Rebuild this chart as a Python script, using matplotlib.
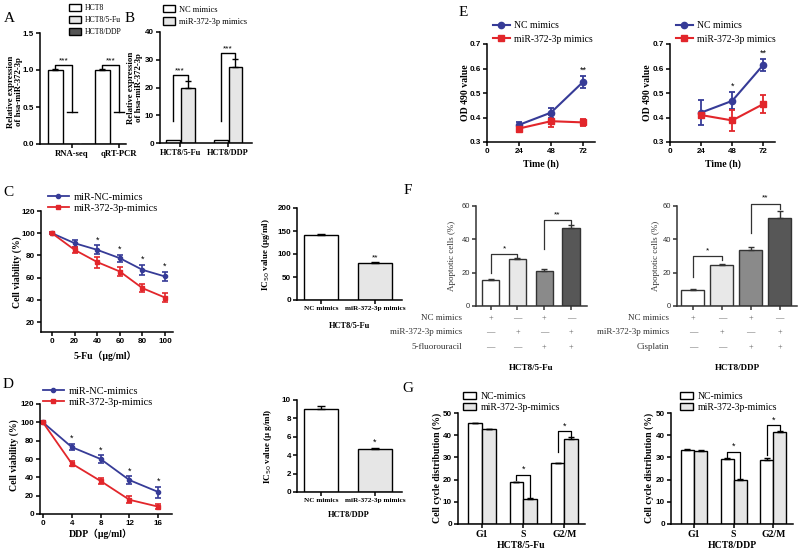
import numpy as np
import matplotlib
matplotlib.use("Agg")
import matplotlib.pyplot as plt

# ---------------- data ----------------
# A
a_groups = ["RNA-seq", "qRT-PCR"]
a_labels = ["HCT8", "HCT8/5-Fu", "HCT8/DDP"]
a_hct8 = [1.0, 1.0]
a_hct8_err = [0.012, 0.01]
a_5fu = [0.0, 0.0]
a_ddp = [0.0, 0.0]
a_sig_top = [1.07, 1.07]
a_sig_low = [0.43, 0.43]

# B
b_groups = ["HCT8/5-Fu", "HCT8/DDP"]
b_labels = ["NC mimics", "miR-372-3p mimics"]
b_nc = [1.0, 1.0]
b_mir = [19.7, 27.5]
b_mir_err = [2.5, 2.6]
b_sig_low = [8.0, 8.0]
b_sig_top = [24.5, 32.5]

# C
c_dose = [0, 20, 40, 60, 80, 100]
c_nc = [100, 91, 85, 77.5, 67, 61]
c_nc_err = [1, 3, 4, 3, 4.5, 4.5]
c_mir = [100, 85, 74, 65.5, 50.5, 42]
c_mir_err = [1, 3, 5, 4, 3.5, 4]
c_star_x = [40, 60, 80, 100]
c_ic50 = [141, 81.5]
c_ic50_err = [2.5, 1.2]

# D
d_dose = [0, 4, 8, 12, 16]
d_nc = [100, 73, 60, 37, 24]
d_nc_err = [1, 3.5, 4, 4, 6]
d_mir = [100, 55, 36, 15.5, 8]
d_mir_err = [1, 3, 3, 4, 2.5]
d_star_x = [4, 8, 12, 16]
d_ic50 = [9.0, 4.65]
d_ic50_err = [0.3, 0.12]

# E
e_time = [24, 48, 72]
e1_nc = [0.37, 0.42, 0.545]
e1_nc_err = [0.01, 0.02, 0.025]
e1_mir = [0.355, 0.385, 0.38]
e1_mir_err = [0.015, 0.025, 0.015]
e2_nc = [0.42, 0.468, 0.615]
e2_nc_err = [0.05, 0.035, 0.025]
e2_mir = [0.41, 0.388, 0.455]
e2_mir_err = [0.01, 0.042, 0.037]

# F
f1_vals = [15.5, 28.0, 21.0, 47.0]
f1_err = [0.6, 0.8, 1.0, 1.5]
f2_vals = [9.8, 24.5, 33.5, 53.0]
f2_err = [0.5, 1.0, 2.0, 3.8]
f1_rows = ["NC mimics", "miR-372-3p mimics", "5-fluorouracil"]
f2_rows = ["NC mimics", "miR-372-3p mimics", "Cisplatin"]
f_signs = [["+", "—", "+", "—"], ["—", "+", "—", "+"], ["—", "—", "+", "+"]]
# (left bar, right bar, left foot, top, right foot, label)
f1_brackets = [(0, 1, 20.0, 31.4, 28.9, "*"), (2, 3, 34.4, 51.8, 49.4, "**")]
f2_brackets = [(0, 1, 17.4, 30.0, 27.6, "*"), (2, 3, 43.8, 61.5, 58.0, "**")]

# G
g_phase = ["G1", "S", "G2/M"]
g_labels = ["NC-mimics", "miR-372-3p-mimics"]
g1_nc = [45.3, 18.7, 27.3]
g1_nc_err = [0.4, 0.4, 0.4]
g1_mir = [42.6, 11.4, 38.4]
g1_mir_err = [0.4, 0.3, 0.8]
g2_nc = [33.5, 29.3, 29.0]
g2_nc_err = [0.4, 0.4, 0.8]
g2_mir = [33.0, 20.0, 41.5]
g2_mir_err = [0.3, 0.3, 0.4]
g1_brackets = [(1, 20.0, 22.2, 12.3), (2, 32.4, 41.7, 39.6)]
g2_brackets = [(1, 30.0, 32.3, 20.8), (2, 31.2, 44.4, 42.3)]

# ---------------- helpers ----------------
W, H = 800, 551
fig = plt.figure(figsize=(8, 5.51), dpi=100)
SERIF = "Liberation Serif"
SANS = "Liberation Sans"
BLUE = "#363b97"
RED = "#e2262b"
LIGHT = "#e6e6e6"
TICK = 5.8


def px_axes(l, t, r, b, color="black"):
    ax = fig.add_axes([l / W, 1 - b / H, (r - l) / W, (b - t) / H])
    for s in ("top", "right"):
        ax.spines[s].set_visible(False)
    for s in ("left", "bottom"):
        ax.spines[s].set_linewidth(1.1)
        ax.spines[s].set_color(color)
    ax.tick_params(direction="out", length=3, width=1.1, pad=1.3, color=color)
    ax.patch.set_alpha(0)
    return ax


def num_ticks(ax, axis, ticks, fmt="{:g}", size=TICK, weight="bold", color="black"):
    labels = [fmt.format(t) for t in ticks]
    getattr(ax, "set_%sticks" % axis)(ticks, labels=labels, fontsize=size,
                                        fontfamily=SANS, fontweight=weight, color=color)


def cat_ticks(ax, ticks, labels, size=6.2):
    ax.set_xticks(ticks, labels=labels, fontsize=size, fontfamily=SERIF, fontweight="bold")


def ftext(x, y, s, size=6.5, rot=0, weight="bold", family=SERIF, **kw):
    fig.text(x / W, 1 - y / H, s, fontsize=size, rotation=rot, fontweight=weight,
             fontfamily=family, ha=kw.pop("ha", "center"), va=kw.pop("va", "center"), **kw)


def px_legend(ax, handles, labels, x, y, fs=7, spacing=0.35, hl=1.3, hh=0.8):
    ax.legend(handles, labels, loc="upper left", bbox_to_anchor=(x / W, 1 - y / H),
              bbox_transform=fig.transFigure, frameon=False, borderpad=0, borderaxespad=0,
              prop={"family": SERIF, "size": fs}, labelspacing=spacing,
              handlelength=hl, handleheight=hh, handletextpad=0.5)


def up(err):
    return [np.zeros(len(err)), err]


def star(ax, x, y, s, size=6.5):
    ax.text(x, y, s, ha="center", va="bottom", fontsize=size, fontfamily=SANS)


# ---------------- A ----------------
axA = px_axes(40, 33, 126, 144)
xa = np.arange(len(a_groups))
off, bw = 0.36, 0.32
hA = [
    axA.bar(xa - off, a_hct8, bw, yerr=up(a_hct8_err), color="white", edgecolor="black",
            linewidth=1, capsize=2.5, error_kw=dict(elinewidth=1, capthick=1)),
    axA.bar(xa, a_5fu, bw, color=LIGHT, edgecolor="black", linewidth=1),
    axA.bar(xa + off, a_ddp, bw, color="#555555", edgecolor="black", linewidth=1),
]
for i in range(len(a_groups)):
    axA.plot([i - off, i - off, i, i],
             [a_hct8[i] + a_hct8_err[i], a_sig_top[i], a_sig_top[i], a_sig_low[i]], color="black", lw=1)
    axA.plot([i - 0.1, i + 0.1], [a_sig_low[i]] * 2, color="black", lw=1)
    star(axA, i - off / 2, a_sig_top[i] + 0.01, "***", 6)
axA.set_xlim(-0.68, 1.15)
axA.set_ylim(0, 1.5)
num_ticks(axA, "y", [0, 0.5, 1.0, 1.5], "{:.1f}")
cat_ticks(axA, xa, a_groups)
px_legend(axA, hA, a_labels, 69, 4, fs=5.6, spacing=0.5, hl=1.5, hh=1.0)
ftext(15, 92, "Relative expression\nof hsa-miR-372-3p", size=6.3, rot=90, linespacing=1.0)
ftext(9, 19, "A", size=11, weight="normal")

# ---------------- B ----------------
axB = px_axes(160, 32, 252, 143)
xb = np.arange(len(b_groups))
off, bw = 0.155, 0.29
hB = [
    axB.bar(xb - off, b_nc, bw, color="white", edgecolor="black", linewidth=1),
    axB.bar(xb + off, b_mir, bw, yerr=up(b_mir_err), color=LIGHT, edgecolor="black",
            linewidth=1, capsize=2.5, error_kw=dict(elinewidth=1, capthick=1)),
]
for i in range(len(b_groups)):
    top = b_sig_top[i]
    axB.plot([i - off, i - off, i + off, i + off],
             [b_sig_low[i], top, top, b_mir[i] + b_mir_err[i] + 0.6], color="black", lw=1)
    star(axB, i, top + 0.3, "***", 6)
axB.set_xlim(-0.42, 1.5)
axB.set_ylim(0, 40)
num_ticks(axB, "y", [0, 10, 20, 30, 40])
cat_ticks(axB, xb, b_groups, size=6)
px_legend(axB, hB, b_labels, 163, 5, fs=6, spacing=0.45, hl=1.4, hh=1.0)
ftext(135, 88, "Relative expression\nof hsa-miR-372-3p", size=6.3, rot=90, linespacing=1.0)
ftext(130, 18, "B", size=11, weight="normal")

# ---------------- C ----------------
axC = px_axes(41, 211, 173, 332)
eb1 = axC.errorbar(c_dose, c_nc, yerr=c_nc_err, fmt="-o", color=BLUE, ms=3, lw=1.3,
                   capsize=2, elinewidth=1.2, capthick=1.2, clip_on=False)
eb2 = axC.errorbar(c_dose, c_mir, yerr=c_mir_err, fmt="-s", color=RED, ms=3, lw=1.3,
                   capsize=2, elinewidth=1.2, capthick=1.2, clip_on=False)
for x in c_star_x:
    i = c_dose.index(x)
    star(axC, x, c_nc[i] + c_nc_err[i] + 1, "*")
axC.set_xlim(-9.7, 107)
axC.set_ylim(11, 120)
num_ticks(axC, "y", [20, 40, 60, 80, 100, 120])
num_ticks(axC, "x", c_dose)
px_legend(axC, [eb1[0], eb2[0]], ["miR-NC-mimics", "miR-372-3p-mimics"], 48, 192, fs=7.5, spacing=0.2, hl=2.0)
ftext(17, 272, "Cell viability (%)", size=7, rot=90)
ftext(105, 356, "5-Fu（μg/ml）", size=7, family=[SERIF, "Noto Sans CJK SC"])
ftext(8, 193, "C", size=11, weight="normal")

axC2 = px_axes(297, 208, 402, 300)
xc = np.arange(2)
axC2.bar(xc, c_ic50, 0.64, yerr=up(c_ic50_err), color=["white", LIGHT], edgecolor="black",
         linewidth=1, capsize=3, error_kw=dict(elinewidth=1, capthick=1))
star(axC2, 1, c_ic50[1] + c_ic50_err[1] + 2, "**", 6)
axC2.set_xlim(-0.45, 1.5)
axC2.set_ylim(0, 200)
num_ticks(axC2, "y", [0, 50, 100, 150, 200])
cat_ticks(axC2, xc, ["NC mimics", "miR-372-3p mimics"], size=5.2)
ftext(266, 254, "IC$_{50}$ value (μg/ml)", rot=90)
ftext(349, 326, "HCT8/5-Fu", size=6)

# ---------------- D ----------------
axD = px_axes(40, 404, 172, 514)
eb1 = axD.errorbar(d_dose, d_nc, yerr=d_nc_err, fmt="-o", color=BLUE, ms=3, lw=1.3,
                   capsize=2, elinewidth=1.2, capthick=1.2, clip_on=False)
eb2 = axD.errorbar(d_dose, d_mir, yerr=d_mir_err, fmt="-s", color=RED, ms=3, lw=1.3,
                   capsize=2, elinewidth=1.2, capthick=1.2, clip_on=False)
for x in d_star_x:
    i = d_dose.index(x)
    star(axD, x, d_nc[i] + d_nc_err[i] + 1, "*")
axD.set_xlim(-0.4, 17.9)
axD.set_ylim(0, 120)
num_ticks(axD, "y", [0, 20, 40, 60, 80, 100, 120])
num_ticks(axD, "x", d_dose)
px_legend(axD, [eb1[0], eb2[0]], ["miR-NC-mimics", "miR-372-3p-mimics"], 43, 386, fs=7.5, spacing=0.15, hl=2.0)
ftext(14, 455, "Cell viability (%)", size=7, rot=90)
ftext(101, 534, "DDP（μg/ml）", size=7, family=[SERIF, "Noto Sans CJK SC"])
ftext(8, 385, "D", size=11, weight="normal")

axD2 = px_axes(297, 400, 402, 492)
axD2.bar(xc, d_ic50, 0.64, yerr=up(d_ic50_err), color=["white", LIGHT], edgecolor="black",
         linewidth=1, capsize=3, error_kw=dict(elinewidth=1, capthick=1))
star(axD2, 1, d_ic50[1] + d_ic50_err[1] + 0.1, "*")
axD2.set_xlim(-0.45, 1.5)
axD2.set_ylim(0, 10)
num_ticks(axD2, "y", [0, 2, 4, 6, 8, 10])
cat_ticks(axD2, xc, ["NC mimics", "miR-372-3p mimics"], size=5.2)
ftext(268, 446, "IC$_{50}$ value (μ g/ml)", rot=90)
ftext(349, 515, "HCT8/DDP", size=6)

# ---------------- E ----------------
e_sets = [
    (487, 595, 466, e1_nc, e1_nc_err, e1_mir, e1_mir_err, [(72, "**")]),
    (670, 775, 648, e2_nc, e2_nc_err, e2_mir, e2_mir_err, [(48, "*"), (72, "**")]),
]
for l, r, ylx, nc, nce, mir, mire, stars in e_sets:
    ax = px_axes(l, 44, r, 142)
    h1 = ax.errorbar(e_time, nc, yerr=nce, fmt="-o", color=BLUE, ms=4.5, lw=1.5,
                     capsize=2.5, elinewidth=1.3, capthick=1.3)
    h2 = ax.errorbar(e_time, mir, yerr=mire, fmt="-s", color=RED, ms=4.5, lw=1.5,
                     capsize=2.5, elinewidth=1.3, capthick=1.3)
    for x, s in stars:
        i = e_time.index(x)
        star(ax, x, nc[i] + nce[i] + 0.005, s)
    ax.set_xlim(0, 81)
    ax.set_ylim(0.3, 0.7)
    num_ticks(ax, "y", [0.3, 0.4, 0.5, 0.6, 0.7])
    num_ticks(ax, "x", [0] + e_time)
    px_legend(ax, [h1[0], h2[0]], ["NC mimics", "miR-372-3p mimics"], l + 6, 21, fs=7, spacing=0.45, hl=1.7)
    ftext(ylx, 93, "OD 490 value", size=7, rot=90)
    ftext((l + r) / 2, 164, "Time (h)", size=7)
ftext(463, 12, "E", size=11, weight="normal")

# ---------------- F ----------------
f_colors = ["white", "#e8e8e8", "#8a8a8a", "#575757"]
f_sets = [
    (476, 587, 452, 462, f1_vals, f1_err, f1_rows, f1_brackets, "HCT8/5-Fu", 0.65),
    (677, 797, 656, 669, f2_vals, f2_err, f2_rows, f2_brackets, "HCT8/DDP", 0.8),
]
for l, r, ylx, rowx, vals, errs, rows, brackets, title, bw in f_sets:
    top, bot = 206, 306
    ax = px_axes(l, top, r, bot, color="#333333")
    xf = np.arange(4)
    ax.bar(xf, vals, bw, yerr=up(errs), color=f_colors, edgecolor="#333333", linewidth=1,
           capsize=2.5, error_kw=dict(elinewidth=1, capthick=1, ecolor="#333333"))
    for a, b, lo, hi, ro, s in brackets:
        ax.plot([a, a, b, b], [lo, hi, hi, ro], color="#333333", lw=0.9, clip_on=False)
        star(ax, (a + b) / 2, hi + 1, s, 6)
    ax.set_xlim(-0.55, 3.6)
    ax.set_ylim(0, 60)
    num_ticks(ax, "y", [0, 20, 40, 60], weight="normal", color="#333333", size=5.5)
    ax.set_xticks(xf, labels=[""] * 4)
    ftext(ylx, 256, "Apoptotic cells (%)", rot=90, weight="normal", size=6.5, color="#333333")
    trans = ax.get_xaxis_transform()
    for k, (row, signs) in enumerate(zip(rows, f_signs)):
        ypx = 318 + 14.5 * k
        ftext(rowx, ypx, row, size=6.5, weight="normal", ha="right", color="#333333")
        for j, s in enumerate(signs):
            ax.text(j, -(ypx - bot) / (bot - top), s, transform=trans, ha="center", va="center",
                    fontsize=6, fontfamily=SERIF, color="#555555")
    ftext((l + r) / 2, 368, title, size=6.5)
ftext(408, 190, "F", size=11, weight="normal")

# ---------------- G ----------------
g_sets = [
    (458, 585, 437, g1_nc, g1_nc_err, g1_mir, g1_mir_err, g1_brackets, "HCT8/5-Fu", 463),
    (671, 793, 649, g2_nc, g2_nc_err, g2_mir, g2_mir_err, g2_brackets, "HCT8/DDP", 680),
]
for l, r, ylx, nc, nce, mir, mire, brackets, title, legx in g_sets:
    ax = px_axes(l, 413, r, 524)
    xg = np.arange(3)
    bw = 0.33
    h1 = ax.bar(xg - bw / 2, nc, bw, yerr=up(nce), color="white", edgecolor="black", linewidth=1,
                capsize=2, error_kw=dict(elinewidth=1, capthick=1))
    h2 = ax.bar(xg + bw / 2, mir, bw, yerr=up(mire), color=LIGHT, edgecolor="black", linewidth=1,
                capsize=2, error_kw=dict(elinewidth=1, capthick=1))
    for i, lo, hi, ro in brackets:
        ax.plot([i - bw / 2, i - bw / 2, i + bw / 2, i + bw / 2], [lo, hi, hi, ro], color="black", lw=0.9)
        star(ax, i, hi + 0.5, "*")
    ax.set_xlim(-0.58, 2.5)
    ax.set_ylim(0, 50)
    num_ticks(ax, "y", [0, 10, 20, 30, 40, 50])
    cat_ticks(ax, xg, g_phase, size=7)
    px_legend(ax, [h1, h2], g_labels, legx, 392, fs=7, spacing=0.2, hl=1.3)
    ftext(ylx, 468, "Cell cycle distribution (%)", size=7, rot=90)
    ftext((l + r) / 2, 545, title, size=7)
ftext(408, 388, "G", size=11, weight="normal")

fig.savefig("out.png", dpi=100)
